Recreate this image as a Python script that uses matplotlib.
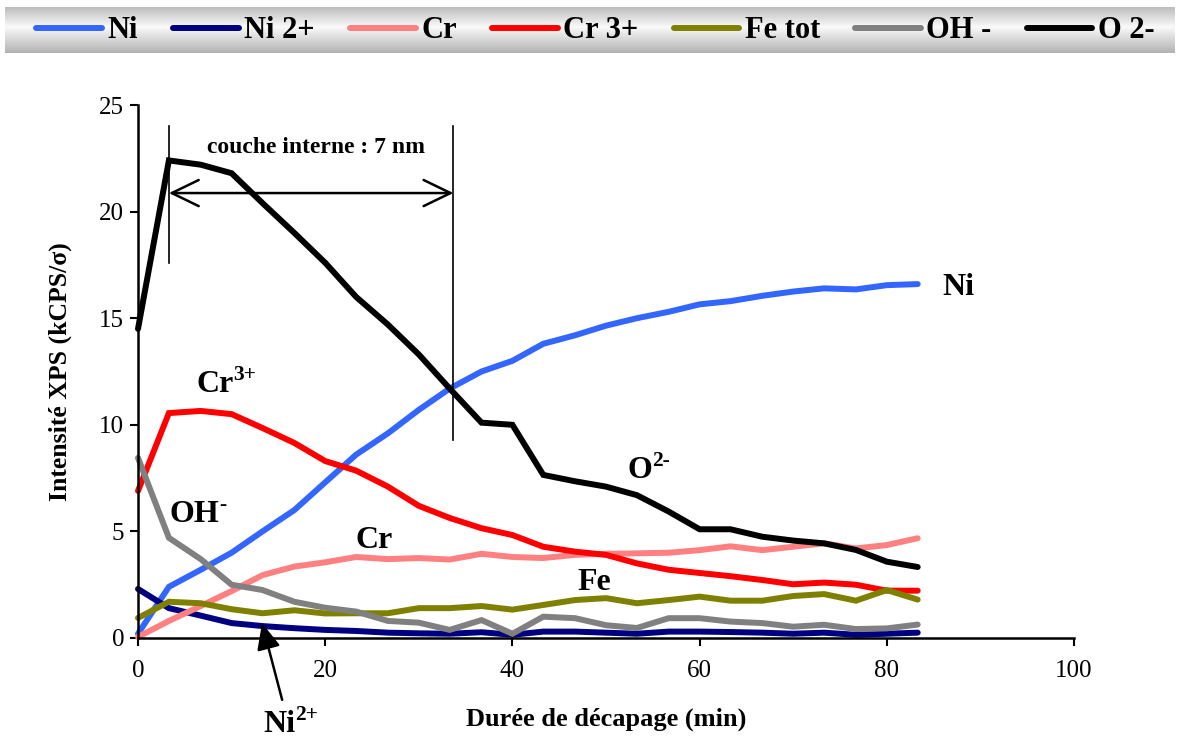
#!/usr/bin/env python
# -*- coding: utf-8 -*-
"""XPS depth profile: intensity vs sputtering time."""

import matplotlib
matplotlib.use('Agg')
import matplotlib.pyplot as plt
import numpy as np

plt.rcParams['font.family'] = ['Liberation Serif', 'DejaVu Serif']

# Data
t = [0, 3.3, 6.7, 10, 13.3, 16.7, 20, 23.3, 26.7, 30, 33.3, 36.7, 40,
     43.3, 46.7, 50, 53.3, 56.7, 60, 63.3, 66.7, 70, 73.3, 76.7, 80, 83.3]

ni = [0.2, 2.4, 3.2, 4.0, 5.0, 6.0, 7.3, 8.6, 9.6, 10.7, 11.7, 12.5, 13.0,
      13.8, 14.2, 14.65, 15.0, 15.3, 15.65, 15.8, 16.05, 16.25, 16.4, 16.35, 16.55, 16.6]
ni2 = [2.3, 1.4, 1.05, 0.7, 0.56, 0.46, 0.38, 0.33, 0.25, 0.22, 0.2, 0.27, 0.15,
       0.3, 0.3, 0.25, 0.2, 0.3, 0.3, 0.28, 0.25, 0.2, 0.25, 0.15, 0.2, 0.25]
cr = [0.05, 0.8, 1.5, 2.2, 2.95, 3.35, 3.55, 3.8, 3.7, 3.75, 3.68, 3.95, 3.8,
      3.75, 3.9, 3.95, 3.97, 4.0, 4.12, 4.3, 4.12, 4.28, 4.44, 4.2, 4.36, 4.68]
cr3 = [6.9, 10.55, 10.65, 10.5, 9.85, 9.15, 8.3, 7.85, 7.1, 6.2, 5.63, 5.15, 4.83,
       4.28, 4.05, 3.9, 3.5, 3.2, 3.05, 2.9, 2.72, 2.52, 2.6, 2.5, 2.22, 2.22]
fe = [0.94, 1.7, 1.63, 1.35, 1.16, 1.3, 1.15, 1.16, 1.16, 1.4, 1.4, 1.5, 1.33,
      1.55, 1.78, 1.87, 1.63, 1.78, 1.94, 1.75, 1.75, 1.97, 2.06, 1.75, 2.25, 1.8]
oh = [8.45, 4.7, 3.7, 2.5, 2.25, 1.7, 1.42, 1.24, 0.8, 0.72, 0.38, 0.84, 0.2,
      1.0, 0.93, 0.6, 0.47, 0.93, 0.93, 0.77, 0.7, 0.53, 0.62, 0.42, 0.45, 0.63]
o2 = [14.5, 22.4, 22.2, 21.8, 20.4, 19.0, 17.6, 16.0, 14.7, 13.3, 11.7, 10.1, 10.0,
      7.65, 7.35, 7.1, 6.7, 5.93, 5.1, 5.1, 4.75, 4.57, 4.44, 4.13, 3.58, 3.33]

series = [('Ni', ni, '#3366FF'), ('Ni 2+', ni2, '#000080'), ('Cr', cr, '#FF8080'),
          ('Cr 3+', cr3, '#FF0000'), ('Fe tot', fe, '#808000'),
          ('OH -', oh, '#808080'), ('O 2-', o2, '#000000')]

# Curve labels: (x, y baseline, text, superscript)
curve_labels = [(85.9, 16.09, 'Ni', ''), (6.27, 11.55, 'Cr', '3+'),
                (52.3, 7.5, 'O', '2-'), (3.4, 5.46, 'OH', '-'),
                (23.2, 4.22, 'Cr', ''), (47.0, 2.25, 'Fe', ''),
                (13.4, -4.39, 'Ni', '2+')]

fig = plt.figure(figsize=(11.79, 7.40), dpi=100)

# Gradient legend bar
bar = fig.add_axes([5 / 1179, 1 - 53 / 740, 1170 / 1179, 46 / 740])
grad = np.concatenate([np.linspace(0.74, 0.97, 20), np.linspace(0.97, 0.70, 26)])
bar.imshow(grad[:, None], aspect='auto', cmap='gray', vmin=0, vmax=1,
           extent=[0, 1, 0, 1])
bar.axis('off')

ax = fig.add_axes([138 / 1179, 1 - 638 / 740, 936 / 1179, 533 / 740])
handles = []
for name, vals, color in series:
    h, = ax.plot(t, vals, color=color, lw=4.3, label=name,
                 solid_joinstyle='miter', solid_capstyle='round', clip_on=False)
    handles.append(h)

fig.legend(handles=handles, loc='center', bbox_to_anchor=(0.505, 1 - 31 / 740),
           ncol=7, frameon=False, handlelength=2.15,
           handletextpad=0.18, columnspacing=1.15,
           prop={'weight': 'bold', 'size': 22})

ax.set_xlim(0, 100)
ax.set_ylim(0, 25)
ax.set_xticks([0, 20, 40, 60, 80, 100])
ax.set_yticks([0, 5, 10, 15, 20, 25])
for side in ('top', 'right'):
    ax.spines[side].set_visible(False)
for side in ('left', 'bottom'):
    ax.spines[side].set_linewidth(1.8)
ax.tick_params(axis='both', direction='out', length=6, width=1.5, labelsize=18)
ax.tick_params(axis='x', pad=10)
ax.tick_params(axis='y', pad=4)

ax.set_xlabel('Durée de décapage (min)', fontsize=19, fontweight='bold')
ax.set_ylabel('Intensité XPS (kCPS/σ)', fontsize=18.5, fontweight='bold')
ax.xaxis.set_label_coords(0.5, -0.131)
ax.yaxis.set_label_coords(-0.07, 0.5)

# Inner layer marker
ax.plot([3.3, 3.3], [17.6, 24.0], color='black', lw=1.2)
ax.plot([33.7, 33.7], [9.3, 24.0], color='black', lw=1.2)
ax.annotate('', xy=(3.3, 20.87), xytext=(33.7, 20.87),
            arrowprops=dict(arrowstyle='<->,head_length=0.97,head_width=0.47',
                            mutation_scale=20, lw=1.8, color='black',
                            shrinkA=0, shrinkB=0))
ax.text(7.4, 22.75, 'couche interne : 7 nm', fontsize=17, fontweight='bold',
        va='baseline', ha='left')

# Curve labels with superscripts
for x, y, base, sup in curve_labels:
    txt = ax.text(x, y, base, fontsize=23, fontweight='bold', va='baseline',
                  ha='left', clip_on=False)
    if sup:
        ax.annotate(sup, xy=(1, 1), xycoords=txt, xytext=(-0.3, 3.6),
                    textcoords='offset points', fontsize=15.5, fontweight='bold',
                    va='top', ha='left', annotation_clip=False)

ax.annotate('', xy=(13.25, 0.7), xytext=(15.4, -2.9), annotation_clip=False,
            arrowprops=dict(arrowstyle='-|>,head_length=1.0,head_width=0.45',
                            mutation_scale=16, lw=1.8, color='black',
                            shrinkA=0, shrinkB=0))

fig.savefig('out.png', dpi=100)
